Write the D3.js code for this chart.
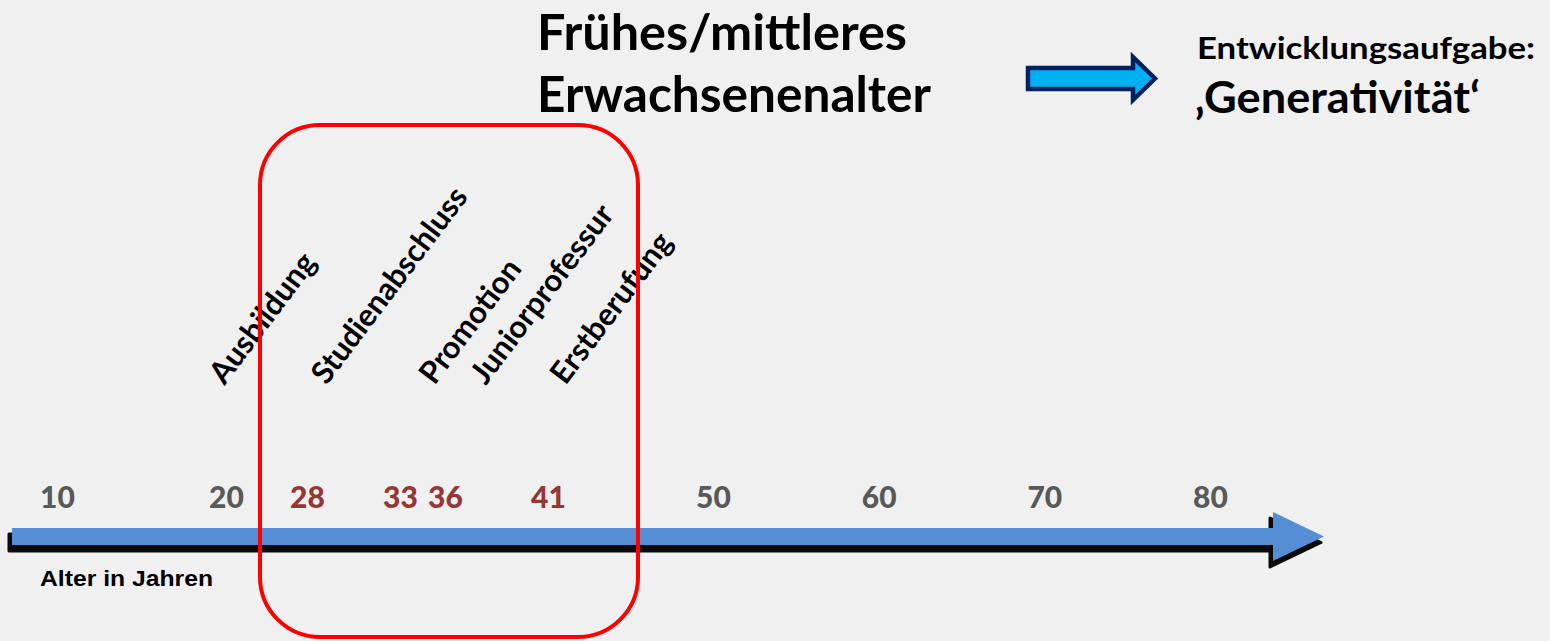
<!DOCTYPE html>
<html>
<head>
<meta charset="utf-8">
<script src="https://cdn.jsdelivr.net/npm/d3@7"></script>
<style>
  html, body { margin: 0; padding: 0; background: #f0f0f0; }
  svg { display: block; }
</style>
</head>
<body>
<div id="chart"></div>
<script>
// ages shown along the time arrow
var grayAges = [10, 20, 50, 60, 70, 80]
var redAges = [28, 33, 36, 41]
// career milestones and the age where each label starts
var events = ["Ausbildung", "Studienabschluss", "Promotion", "Juniorprofessur", "Erstberufung"]
var eventAges = [19.2, 28.4, 34.5, 37.4, 41.3]
var titleLines = ["Frühes/mittleres", "Erwachsenenalter"]
var taskLines = ["Entwicklungsaufgabe:", "\u201AGenerativität\u2018"]
var axisTitle = "Alter in Jahren"

const WIDTH = 1550
const HEIGHT = 641
const FONT = "Lato, 'Open Sans', sans-serif"

const svg = d3.select("#chart").append("svg")
	.attr("width", WIDTH)
	.attr("height", HEIGHT)

svg.append("rect")
	.attr("width", WIDTH).attr("height", HEIGHT)
	.attr("fill", "#f0f0f0")

// the slide spaces the highlighted ages by hand, so the scale is piecewise
const allAges = grayAges.concat(redAges).sort((a, b) => a - b)
const x = d3.scaleLinear()
	.domain([10, 20, 28, 33, 36, 41, 50, 80])
	.range([57, 226, 307, 400, 445, 548, 713, 1210])

// Time arrow
const barY = 528, barH = 17
const x0 = x(10) - 45
const headX = x(80) + 63
const tipX = x(80) + 114
const arrowPts = [
	[x0, barY], [headX, barY], [headX, barY - 16],
	[tipX, barY + barH / 2], [headX, barY + barH + 16],
	[headX, barY + barH], [x0, barY + barH]
]
const line = d3.line().curve(d3.curveLinearClosed)

svg.append("path")
	.attr("d", line(arrowPts.map(p => [p[0] - 3, p[1] + 6])))
	.attr("fill", "#0a0a0a")
	.attr("stroke", "#0a0a0a")
	.attr("stroke-width", 3)
	.attr("stroke-linejoin", "round")
svg.append("path")
	.attr("d", line(arrowPts))
	.attr("fill", "#558ed5")

// Age ticks
const axisCall = d3.axisTop(x)
	.tickValues(allAges)
	.tickSize(0)
	.tickPadding(0)
	.tickFormat(d3.format("d"))
const axisG = svg.append("g")
	.attr("class", "x axis")
	.attr("transform", "translate(0, 508)")
	.call(axisCall)
axisG.select(".domain").remove()
axisG.selectAll("text")
	.attr("font-family", FONT)
	.attr("font-weight", "900")
	.attr("font-size", "30px")
	.attr("fill", d => redAges.includes(d) ? "#953735" : "#595959")

svg.append("text")
	.attr("x", 40)
	.attr("y", 586)
	.attr("font-family", "'Liberation Sans', Arial, sans-serif")
	.attr("font-weight", "bold")
	.attr("font-size", "22px")
	.attr("textLength", 173)
	.attr("lengthAdjust", "spacingAndGlyphs")
	.attr("fill", "#000")
	.text(axisTitle)

// Milestone labels
svg.selectAll(".event")
	.data(events)
	.enter().append("text")
	.attr("class", "event")
	.attr("transform", (d, i) => `translate(${x(eventAges[i]) + 12}, 386) rotate(-53)`)
	.attr("font-family", FONT)
	.attr("font-weight", "bold")
	.attr("font-size", "31px")
	.attr("fill", "#000")
	.text(d => d)

// Highlight box for the early/middle adult years
svg.append("rect")
	.attr("x", 260)
	.attr("y", 125)
	.attr("width", 378)
	.attr("height", 512)
	.attr("rx", 60)
	.attr("ry", 60)
	.attr("fill", "none")
	.attr("stroke", "#ff0000")
	.attr("stroke-width", 4)

// Title
svg.selectAll(".title")
	.data(titleLines)
	.enter().append("text")
	.attr("class", "title")
	.attr("x", 537)
	.attr("y", (d, i) => 50 + i * 62)
	.attr("font-family", FONT)
	.attr("font-weight", "bold")
	.attr("font-size", "49px")
	.attr("textLength", (d, i) => i === 0 ? 370 : 394)
	.attr("lengthAdjust", "spacingAndGlyphs")
	.attr("fill", "#000")
	.text(d => d)

// Small pointer arrow
const sa = [[1028, 68], [1133, 68], [1133, 57], [1155, 78.5], [1133, 100], [1133, 89], [1028, 89]]
svg.append("path")
	.attr("d", line(sa))
	.attr("fill", "#00b0f0")
	.attr("stroke", "#002060")
	.attr("stroke-width", 4.5)
	.attr("stroke-linejoin", "miter")

// Developmental task
svg.append("text")
	.attr("x", 1197).attr("y", 59)
	.attr("font-family", FONT)
	.attr("font-weight", "bold")
	.attr("font-size", "31px")
	.attr("textLength", 338)
	.attr("lengthAdjust", "spacingAndGlyphs")
	.attr("fill", "#000")
	.text(taskLines[0])
svg.append("text")
	.attr("x", 1195).attr("y", 113)
	.attr("font-family", FONT)
	.attr("font-weight", "bold")
	.attr("font-size", "43px")
	.attr("textLength", 285)
	.attr("lengthAdjust", "spacingAndGlyphs")
	.attr("fill", "#000")
	.text(taskLines[1])
</script>
</body>
</html>
